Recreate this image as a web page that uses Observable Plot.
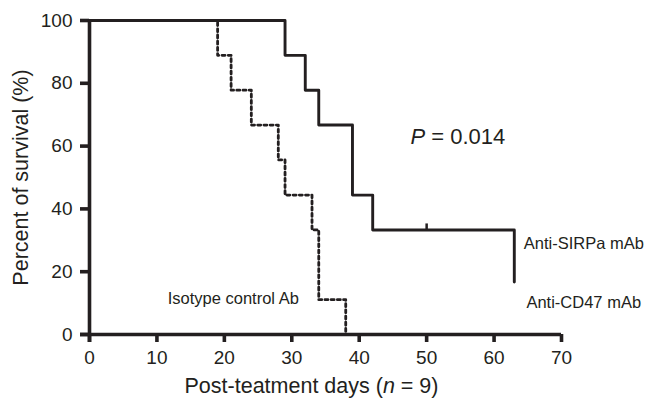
<!DOCTYPE html>
<html>
<head>
<meta charset="utf-8">
<script src="https://cdn.jsdelivr.net/npm/d3@7"></script>
<script src="https://cdn.jsdelivr.net/npm/@observablehq/plot@0.6"></script>
<style>
  html, body { margin: 0; padding: 0; background: #fff; }
  #chart svg { display: block; }
</style>
</head>
<body>
<div id="chart"></div>
<script>
// Survival curves (day, percent surviving), step-after
const sirpaDays = [0, 29, 32, 34, 39, 42, 63, 63];
const sirpaPct  = [100, 88.9, 77.8, 66.7, 44.4, 33.3, 33.3, 16.7];
const isoDays   = [0, 19, 21, 24, 28, 29, 33, 34, 38];
const isoPct    = [100, 88.9, 77.8, 66.7, 55.6, 44.4, 33.3, 11.1, 0];
// Censored observation
const censorDays = [50];
const censorPct  = [33.3];
// Tick labels
const xTicks = [0, 10, 20, 30, 40, 50, 60, 70];
const yTicks = [0, 20, 40, 60, 80, 100];
// Annotation texts with anchor positions in data units
const noteText = ["Isotype control Ab", "Anti-SIRPa mAb", "Anti-CD47 mAb"];
const noteDay  = [11.6, 64.4, 64.8];
const notePct  = [11.5, 29.0, 10.2];
const pText = "P = 0.014";
const pDay = 47.6, pPct = 63;

const sirpa = sirpaDays.map((d, i) => ({day: d, pct: sirpaPct[i]}));
const iso = isoDays.map((d, i) => ({day: d, pct: isoPct[i]}));
const censor = censorDays.map((d, i) => ({day: d, pct: censorPct[i]}));
const notes = noteText.map((t, i) => ({text: t, day: noteDay[i], pct: notePct[i]}));

const ink = "#231f20";

const plot = Plot.plot({
  width: 646,
  height: 404,
  marginLeft: 89,
  marginRight: 85,
  marginTop: 20,
  marginBottom: 70,
  style: {fontFamily: "'Liberation Sans', Arial, Helvetica, sans-serif", color: ink, background: "#fff", overflow: "visible"},
  x: {domain: [0, 70]},
  y: {domain: [0, 100]},
  marks: [
    Plot.axisX({ticks: xTicks, tickSize: 8, tickPadding: 8, strokeWidth: 3.6, fontSize: 19, label: null, stroke: ink, fill: ink}),
    Plot.axisY({ticks: yTicks, tickSize: 9, tickPadding: 8, strokeWidth: 3.6, fontSize: 19, label: null, stroke: ink, fill: ink}),
    Plot.ruleX([0], {y1: 100, y2: 0, insetBottom: -8, stroke: ink, strokeWidth: 3.6}),
    Plot.ruleY([0], {x1: 0, x2: 70, insetLeft: -9, stroke: ink, strokeWidth: 3.6}),
    Plot.line(iso, {x: "day", y: "pct", curve: "step-after", stroke: ink, strokeWidth: 2.8, strokeDasharray: "3,3.2"}),
    Plot.line(sirpa, {x: "day", y: "pct", curve: "step-after", stroke: ink, strokeWidth: 2.9, strokeLinecap: "round"}),
    Plot.ruleX(censor, {x: "day", y1: "pct", y2: "pct", insetTop: -6, stroke: ink, strokeWidth: 2.5}),
    Plot.text(notes, {x: "day", y: "pct", text: "text", textAnchor: "start", lineAnchor: "middle", fontSize: 16.5, fill: ink}),
    Plot.text([pText], {x: pDay, y: pPct, text: d => d, textAnchor: "start", lineAnchor: "middle", fontSize: 22, fill: ink}),
    Plot.text(["Percent of survival (%)"], {frameAnchor: "left", text: d => d, rotate: -90, dx: -68, textAnchor: "middle", lineAnchor: "middle", fontSize: 21.5, fill: ink}),
    Plot.text(["Post-teatment days (n = 9)"], {frameAnchor: "bottom", text: d => d, dx: -14, dy: 52, textAnchor: "middle", lineAnchor: "middle", fontSize: 21.5, fill: ink})
  ]
});

// Italicise the statistical symbols
function italicise(el, before, ital, after) {
  if (!el) return;
  el.textContent = "";
  const ns = "http://www.w3.org/2000/svg";
  const a = document.createElementNS(ns, "tspan"); a.textContent = before;
  const b = document.createElementNS(ns, "tspan"); b.textContent = ital; b.setAttribute("font-style", "italic");
  const c = document.createElementNS(ns, "tspan"); c.textContent = after;
  if (before) el.appendChild(a);
  el.appendChild(b);
  el.appendChild(c);
}
plot.querySelectorAll("text").forEach(t => {
  if (t.textContent === pText) italicise(t, "", "P", " = 0.014");
  if (t.textContent === "Post-teatment days (n = 9)") italicise(t, "Post-teatment days (", "n", " = 9)");
});

document.getElementById("chart").appendChild(plot);
</script>
</body>
</html>
